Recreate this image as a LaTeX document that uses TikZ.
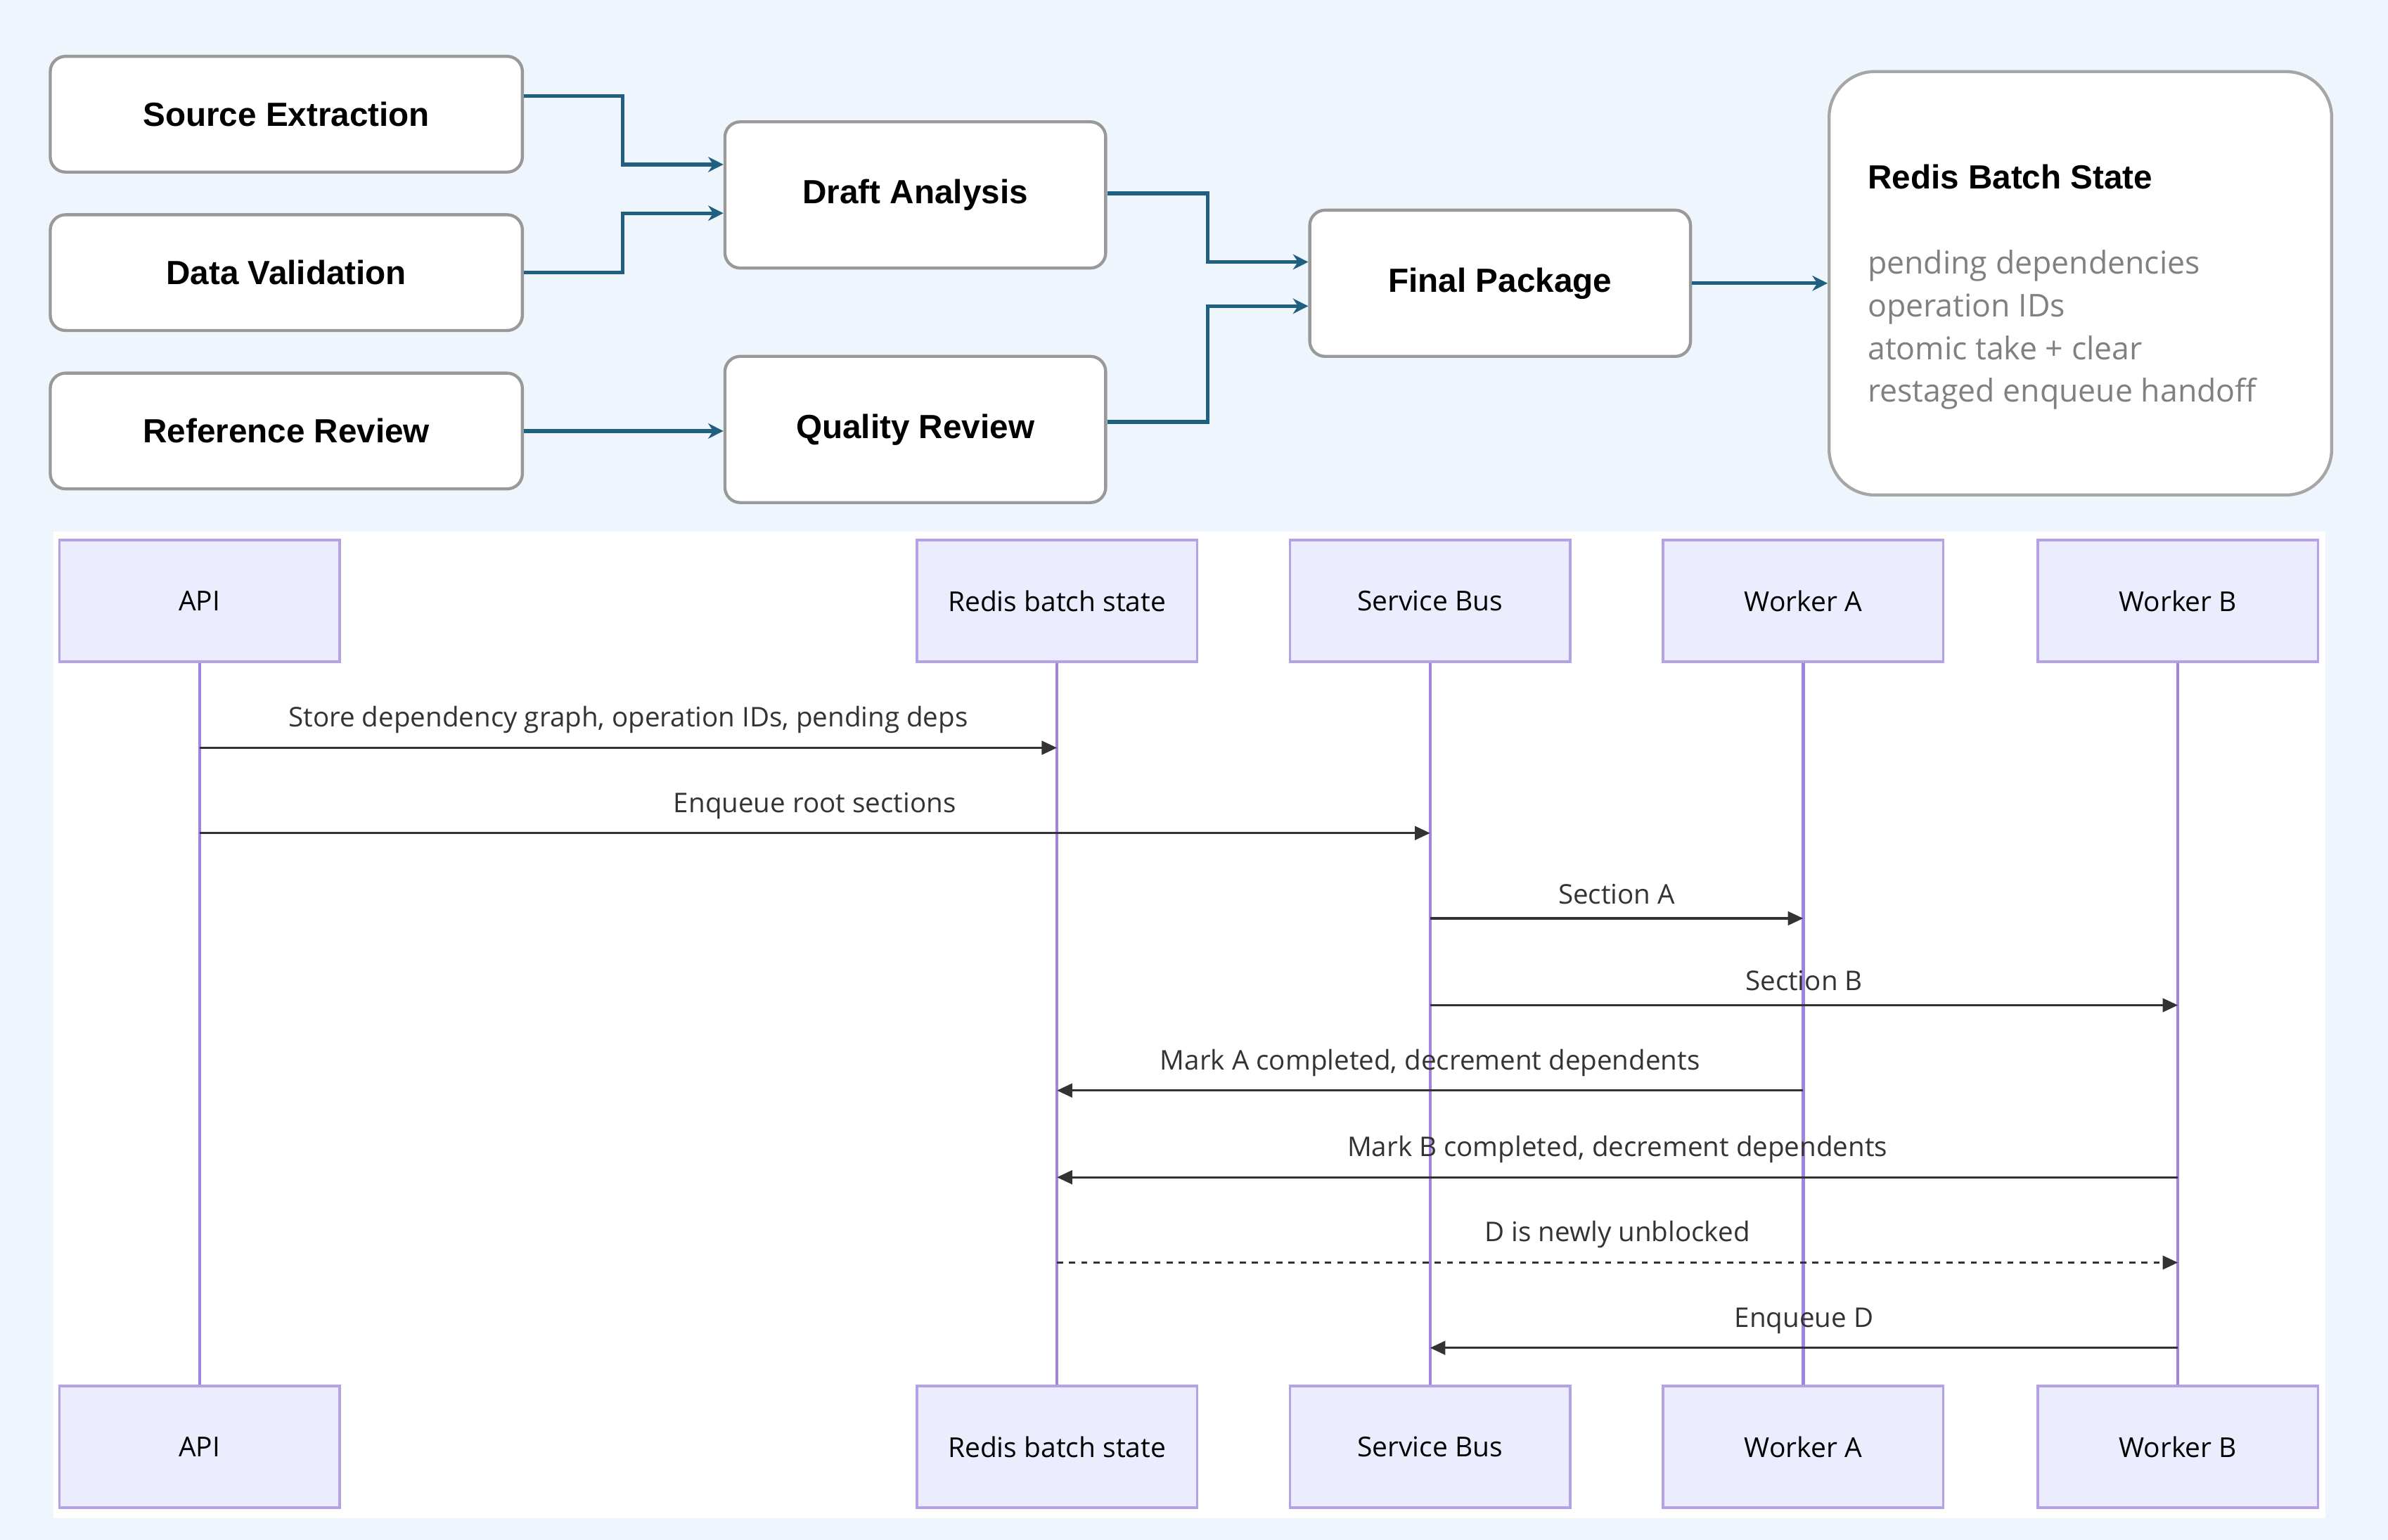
\documentclass[tikz,border=0pt]{standalone}
\usepackage{fontspec}
\setmainfont{Liberation Sans}
\newfontfamily\seqfont{Open Sans}
\usetikzlibrary{arrows.meta}
\definecolor{bgc}{HTML}{EEF5FC}
\definecolor{conn}{HTML}{1F5F80}
\definecolor{actf}{HTML}{ECECFF}
\definecolor{actb}{HTML}{B5A2E6}
\definecolor{life}{HTML}{A283E0}
\definecolor{msg}{HTML}{333333}
\begin{document}
\begin{tikzpicture}[x=0.5pt,y=-0.5pt,
  topbox/.style={draw=gray!80,line width=1pt,fill=white,rounded corners=5pt,font=\bfseries\fontsize{11}{13}\selectfont},
  actor/.style={draw=actb,line width=0.8pt,fill=actf,font=\seqfont\fontsize{9}{11}\selectfont},
  lifeline/.style={life,line width=1pt},
  link/.style={conn,line width=1.2pt,-{Stealth[length=5pt,width=5pt]}},
  msgarr/.style={msg,line width=0.7pt,-{Triangle[length=5pt,width=4.5pt]}},
  lbl/.style={font=\seqfont\fontsize{8.9}{10}\selectfont,text=msg,anchor=base}]
\fill[bgc] (0,0) rectangle (1568,1011);
\useasboundingbox (0,0) rectangle (1568,1011);
\fill[white] (35,349) rectangle (1527,997);
% top
\node[topbox,minimum width=155pt,minimum height=38pt] (se) at (188,75) {Source Extraction};
\node[topbox,minimum width=155pt,minimum height=38pt] (dv) at (188,179) {Data Validation};
\node[topbox,minimum width=155pt,minimum height=38pt] (rr) at (188,283) {Reference Review};
\node[topbox,minimum width=125pt,minimum height=48pt] (da) at (601,128) {Draft Analysis};
\node[topbox,minimum width=125pt,minimum height=48pt] (qr) at (601,282) {Quality Review};
\node[topbox,minimum width=125pt,minimum height=48pt] (fp) at (985,186) {Final Package};
\node[draw=gray!70,line width=1pt,fill=white,rounded corners=15pt,minimum width=165pt,minimum height=139pt] (rb) at (1366,186) {};
\node[anchor=base west,inner sep=0pt,font=\bfseries\fontsize{11}{13}\selectfont] (rbt) at (1226,124) {Redis Batch State};
\begin{scope}[every node/.style={anchor=base west,inner sep=0pt,font=\seqfont\fontsize{10.3}{12}\selectfont,text=gray}]
\node (l1) at (1226,180) {pending dependencies};
\node (l2) at (1226,208) {operation IDs};
\node (l3) at (1226,236) {atomic take + clear};
\node (l4) at (1226,264) {restaged enqueue handoff};
\end{scope}
\draw[link] (se.east|-0,63) -| (409,108) -- (da.west|-0,108);
\draw[link] (dv.east) -| (409,140) -- (da.west|-0,140);
\draw[link] (rr.east) -- (qr.west|-0,283);
\draw[link] (da.east|-0,127) -| (793,172) -- (fp.west|-0,172);
\draw[link] (qr.east|-0,277) -| (793,201) -- (fp.west|-0,201);
\draw[link] (fp.east) -- (rb.west);
% sequence
\foreach \n/\x/\t in {api/131/API,rds/694/Redis batch state,sb/939/Service Bus,wa/1184/Worker A,wb/1430/Worker B}{
  \node[actor,minimum width=92pt,minimum height=40pt] (\n t) at (\x,394.5) {\t};
  \node[actor,minimum width=92pt,minimum height=40pt] (\n b) at (\x,950) {\t};
  \draw[lifeline] (\n t.south) -- (\n b.north);
}
\tikzset{up/.style={midway,above=1pt}}
\coordinate (m1s) at (131,491); \coordinate (m1e) at (694,491);
\draw[msgarr] (m1s) -- (m1e) node[lbl,up] {Store dependency graph, operation IDs, pending deps};
\coordinate (m2s) at (131,547); \coordinate (m2e) at (939,547);
\draw[msgarr] (m2s) -- (m2e) node[lbl,up] {Enqueue root sections};
\coordinate (m3s) at (939,603); \coordinate (m3e) at (1184,603);
\draw[msgarr] (m3s) -- (m3e) node[lbl,up] {Section A};
\coordinate (m4s) at (939,660); \coordinate (m4e) at (1430,660);
\draw[msgarr] (m4s) -- (m4e) node[lbl,up] {Section B};
\coordinate (m5s) at (1184,716); \coordinate (m5e) at (694,716);
\draw[msgarr] (m5s) -- (m5e) node[lbl,up] {Mark A completed, decrement dependents};
\coordinate (m6s) at (1430,773); \coordinate (m6e) at (694,773);
\draw[msgarr] (m6s) -- (m6e) node[lbl,up] {Mark B completed, decrement dependents};
\coordinate (m7s) at (694,829); \coordinate (m7e) at (1430,829);
\draw[msgarr,dash pattern=on 2pt off 2pt] (m7s) -- (m7e) node[lbl,up] {D is newly unblocked};
\coordinate (m8s) at (1430,885); \coordinate (m8e) at (939,885);
\draw[msgarr] (m8s) -- (m8e) node[lbl,up] {Enqueue D};
\end{tikzpicture}
\end{document}
